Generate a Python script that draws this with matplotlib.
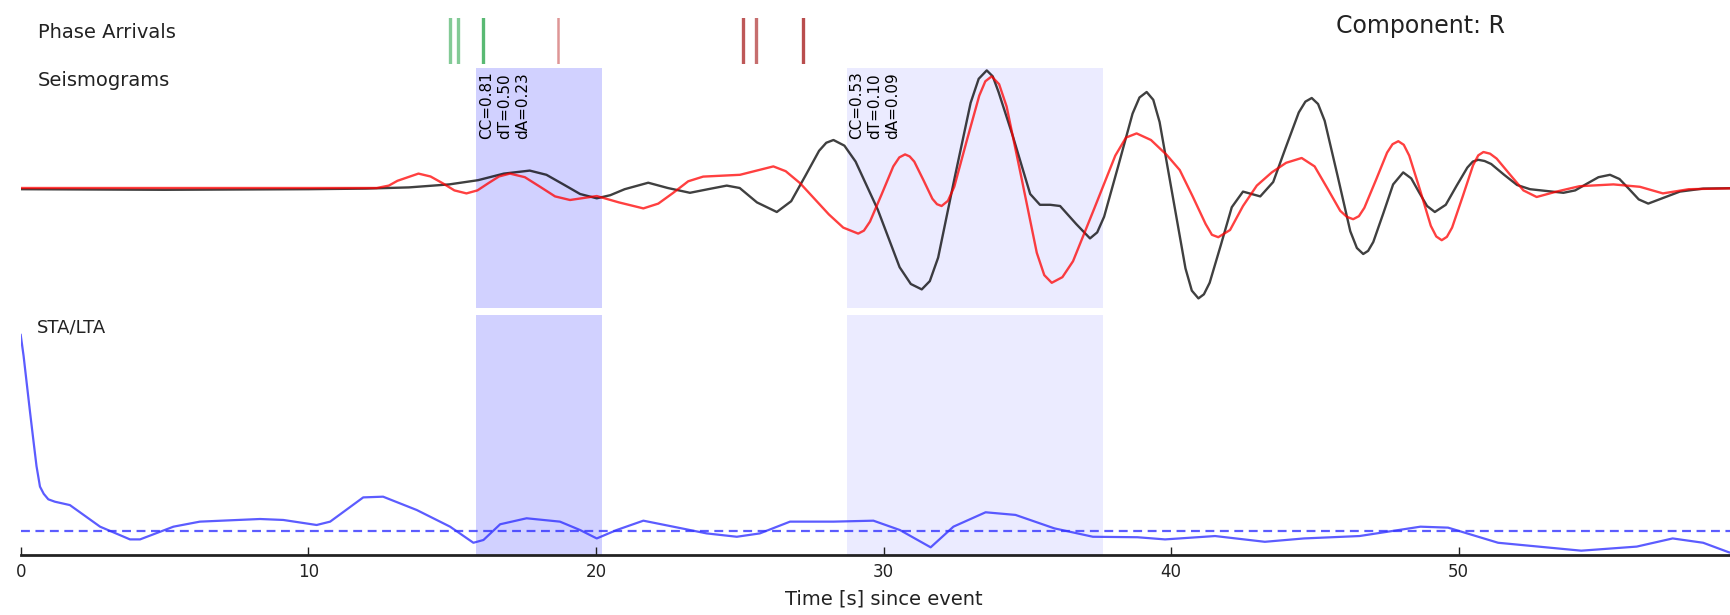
import matplotlib
matplotlib.use('Agg')
import matplotlib.pyplot as plt

# phase arrival times [s]
arrivals_green = [14.94, 15.20, 16.09]
arrivals_pink = [18.67]
arrivals_red = [25.11, 25.56, 27.20]

# selected time windows [s] and their misfit annotations
windows = [(15.83, 20.20), (28.72, 37.64)]
window_labels = ["CC=0.81\ndT=0.50\ndA=0.23", "CC=0.53\ndT=0.10\ndA=0.09"]

# observed seismogram (black), normalised
t_obs = [0.0, 5.0, 10.0, 12.0, 13.5, 14.9, 15.9, 16.8, 17.7, 18.28, 18.87, 19.45,
         20.03, 20.5, 21.0, 21.82, 22.5, 23.27, 23.9, 24.55, 25.0, 25.6, 26.29,
         26.79, 27.28, 27.76, 28.01, 28.26, 28.64, 29.03, 29.8, 30.56, 30.95, 31.33,
         31.61, 31.9, 32.46, 33.03, 33.31, 33.59, 33.8, 34.0, 34.5, 35.1, 35.44, 35.8,
         36.14, 36.7, 37.18, 37.43, 37.67, 38.17, 38.66, 38.9, 39.15, 39.38, 39.6,
         40.05, 40.5, 40.72, 40.95, 41.14, 41.34, 41.73, 42.11, 42.5, 43.1, 43.55,
         43.99, 44.44, 44.67, 44.89, 45.11, 45.34, 45.79, 46.23, 46.46, 46.68, 46.85,
         47.03, 47.38, 47.72, 48.07, 48.35, 48.62, 48.9, 49.17, 49.55, 49.93, 50.3,
         50.49, 50.68, 50.9, 51.13, 51.58, 52.03, 52.48, 53.64, 54.05, 54.45, 54.86,
         55.26, 55.59, 55.93, 56.26, 56.59, 57.69, 58.5, 60.0]
v_obs = [-0.01, -0.015, -0.01, -0.005, 0.005, 0.03, 0.065, 0.12, 0.145, 0.11, 0.03, -0.05,
         -0.086, -0.06, -0.01, 0.044, 0.0, -0.04, -0.01, 0.02, 0.0, -0.12, -0.2,
         -0.11, 0.10, 0.31, 0.377, 0.40, 0.353, 0.22, -0.18, -0.66, -0.80, -0.845,
         -0.776, -0.58, 0.07, 0.71, 0.91, 0.98, 0.93, 0.80, 0.43, -0.05, -0.14, -0.14,
         -0.15, -0.30, -0.42, -0.37, -0.24, 0.19, 0.62, 0.754, 0.80, 0.735, 0.55,
         -0.06, -0.67, -0.855, -0.92, -0.886, -0.79, -0.475, -0.16, -0.03, -0.07, 0.05,
         0.34, 0.63, 0.72, 0.75, 0.70, 0.56, 0.10, -0.36, -0.50, -0.55, -0.524,
         -0.45, -0.21, 0.03, 0.13, 0.08, -0.035, -0.15, -0.20, -0.14, 0.02, 0.17,
         0.22, 0.235, 0.225, 0.20, 0.11, 0.025, -0.01, -0.04, -0.02, 0.035, 0.09,
         0.11, 0.075, -0.01, -0.095, -0.13, -0.03, -0.005, 0.0]

# synthetic seismogram (red), normalised
t_syn = [0.0, 12.38, 12.8, 13.1, 13.83, 14.25, 14.67, 15.08, 15.5, 15.88, 16.26, 16.63,
         17.01, 17.53, 18.06, 18.58, 19.1, 20.03, 20.8, 21.65, 22.17, 22.69, 23.21,
         23.73, 25.01, 26.17, 26.6, 27.1, 27.6, 28.1, 28.6, 29.12, 29.32, 29.53, 29.94,
         30.34, 30.55, 30.75, 30.91, 31.07, 31.39, 31.7, 31.86, 32.02, 32.24, 32.46,
         32.89, 33.33, 33.54, 33.76, 34.02, 34.28, 34.81, 35.33, 35.59, 35.85, 36.22,
         36.59, 37.33, 38.06, 38.43, 38.8, 39.3, 39.85, 40.3, 40.75, 41.2, 41.42,
         41.64, 42.05, 42.5, 42.98, 43.5, 44.0, 44.54, 44.99, 45.44, 45.88, 46.11,
         46.33, 46.53, 46.72, 47.12, 47.51, 47.7, 47.9, 48.09, 48.28, 48.66, 49.03,
         49.22, 49.41, 49.59, 49.77, 50.14, 50.5, 50.68, 50.86, 51.09, 51.32, 51.79,
         52.25, 52.71, 53.4, 54.2, 55.38, 56.3, 57.1, 58.0, 60.0]
v_syn = [0.0, 0.0, 0.02, 0.06, 0.12, 0.096, 0.04, -0.02, -0.045, -0.02, 0.04, 0.096,
         0.12, 0.09, 0.01, -0.07, -0.10, -0.067, -0.12, -0.17, -0.13, -0.04, 0.056,
         0.095, 0.11, 0.18, 0.14, 0.04, -0.09, -0.22, -0.33, -0.38, -0.355, -0.28, -0.05,
         0.18, 0.255, 0.28, 0.263, 0.22, 0.065, -0.09, -0.135, -0.15, -0.107, 0.01,
         0.39, 0.77, 0.889, 0.93, 0.865, 0.68, 0.07, -0.54, -0.726, -0.79, -0.743,
         -0.61, -0.17, 0.27, 0.42, 0.455, 0.40, 0.275, 0.15, -0.07, -0.30, -0.39,
         -0.41, -0.35, -0.15, 0.02, 0.13, 0.21, 0.25, 0.18, -0.005, -0.19, -0.24,
         -0.26, -0.235, -0.165, 0.065, 0.295, 0.365, 0.39, 0.36, 0.27, -0.02, -0.315,
         -0.404, -0.435, -0.407, -0.33, -0.07, 0.19, 0.272, 0.30, 0.286, 0.245, 0.11,
         -0.02, -0.075, -0.03, 0.015, 0.03, 0.01, -0.045, -0.01, 0.0]

# STA/LTA characteristic function
t_sta = [0.0, 0.1, 0.21, 0.32, 0.44, 0.55, 0.67, 0.8, 0.96, 1.19, 1.71, 2.76, 3.8, 4.15,
         5.31, 6.23, 8.32, 9.13, 10.29, 10.76, 11.91, 12.6, 13.77, 14.93, 15.74, 16.09,
         16.67, 17.59, 18.75, 19.45, 20.03, 20.72, 21.65, 22.69, 23.85, 24.9, 25.7,
         26.75, 28.26, 29.65, 30.57, 31.64, 32.43, 33.55, 34.59, 35.94, 37.28, 38.83,
         39.79, 41.53, 43.26, 44.62, 46.55, 48.67, 49.63, 51.37, 54.26, 56.19, 57.44,
         58.5, 59.4, 60.0]
v_sta = [9.17, 8.3, 7.15, 6.0, 4.79, 3.7, 2.85, 2.55, 2.32, 2.22, 2.08, 1.18, 0.65, 0.65,
         1.18, 1.39, 1.5, 1.46, 1.25, 1.39, 2.40, 2.43, 1.875, 1.18, 0.51, 0.625,
         1.28, 1.53, 1.39, 1.04, 0.69, 1.04, 1.43, 1.18, 0.90, 0.76, 0.90,
         1.39, 1.39, 1.43, 1.04, 0.32, 1.18, 1.78, 1.67, 1.11, 0.76, 0.74,
         0.65, 0.79, 0.55, 0.69, 0.79, 1.18, 1.14, 0.51, 0.18, 0.35, 0.69,
         0.51, 0.11, 0.0]
sta_threshold = 1.0

W, H = 1730, 615
fig = plt.figure(figsize=(W / 100, H / 100), dpi=100)


def px_axes(top, bottom, left=20.7, right=1746.3):
    return fig.add_axes([left / W, 1 - bottom / H, (right - left) / W, (bottom - top) / H])


ax_ph = px_axes(18, 64)
ax_se = px_axes(68, 308)
ax_st = px_axes(315, 555)

for ax in (ax_ph, ax_se, ax_st):
    ax.set_xlim(0, 60)
    ax.set_facecolor('none')
    for s in ax.spines.values():
        s.set_visible(False)
    ax.set_yticks([])

# phase arrivals
ax_ph.set_ylim(0, 1)
ax_ph.set_xticks([])
for t, a in zip(arrivals_green, [0.6, 0.6, 0.8]):
    ax_ph.axvline(t, color='#30a850', alpha=a, lw=2.4)
for t in arrivals_pink:
    ax_ph.axvline(t, color='#c85050', alpha=0.6, lw=1.8)
for t, a in zip(arrivals_red, [0.75, 0.65, 0.8]):
    ax_ph.axvline(t, color='#a82020', alpha=a, lw=2.4)

# windows
for (w0, w1), alpha in zip(windows, [0.18, 0.08]):
    ax_se.axvspan(w0, w1, color='blue', alpha=alpha, lw=0)
    ax_st.axvspan(w0, w1, color='blue', alpha=alpha, lw=0)
for (w0, w1), txt in zip(windows, window_labels):
    ax_se.text(w0 + 0.1, 0.985, txt, rotation=90, ha='left', va='top', fontsize=11,
               linespacing=1.25, transform=ax_se.get_xaxis_transform())

# seismograms
ax_se.set_ylim(-1, 1)
ax_se.set_xticks([])
ax_se.plot(t_obs, v_obs, color='black', alpha=0.75, lw=1.7, solid_joinstyle='round')
ax_se.plot(t_syn, v_syn, color='red', alpha=0.75, lw=1.7, solid_joinstyle='round')

# STA/LTA
ax_st.set_ylim(0, 10)
ax_st.plot(t_sta, v_sta, color='#3333ff', alpha=0.8, lw=1.6, solid_joinstyle='round')
ax_st.axhline(sta_threshold, color='#3333ff', alpha=0.8, lw=1.6, ls='--', dashes=(4, 2.5))
ax_st.spines['bottom'].set_visible(True)
ax_st.spines['bottom'].set_linewidth(2)
ax_st.spines['bottom'].set_color('#222222')
ax_st.set_xticks([0, 10, 20, 30, 40, 50])
ax_st.tick_params(axis='x', direction='in', length=6, width=1, labelsize=12, pad=6,
                  colors='#222222')
ax_st.set_xlabel('Time [s] since event', fontsize=14, labelpad=6, color='#222222')

fig.text(37.5 / W, 1 - 33 / H, 'Phase Arrivals', fontsize=14, va='center', color='#222222')
fig.text(37.5 / W, 1 - 80.5 / H, 'Seismograms', fontsize=14, va='center', color='#222222')
fig.text(37 / W, 1 - 328 / H, 'STA/LTA', fontsize=13, va='center', color='#222222')
fig.text(1420 / W, 1 - 26 / H, 'Component: R', fontsize=17, ha='center', va='center',
         color='#222222')

fig.savefig('out.png', dpi=100)
